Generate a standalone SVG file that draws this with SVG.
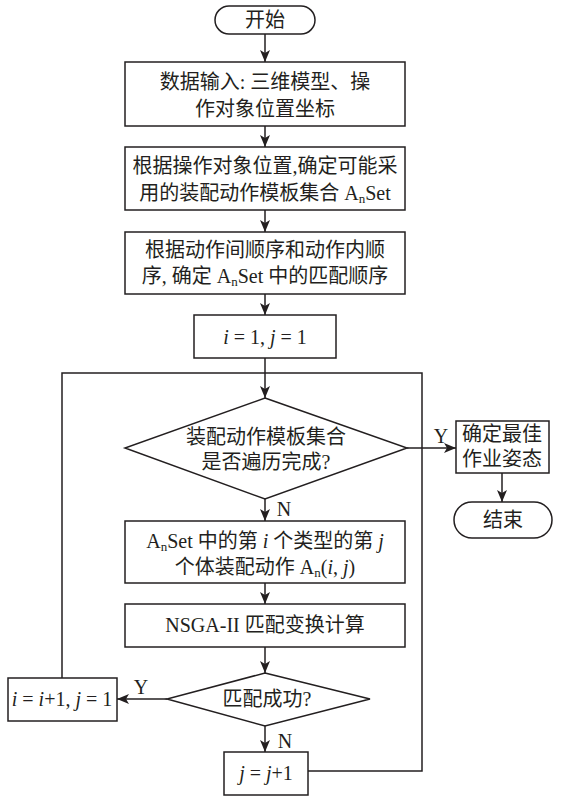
<svg xmlns="http://www.w3.org/2000/svg" width="566" height="805" viewBox="0 0 566 805">
<style>
.box{fill:#fff;stroke:#231f20;stroke-width:1.5}
.ln{fill:none;stroke:#231f20;stroke-width:1.5}
text{font-family:"Liberation Serif","Noto Sans CJK SC",serif;font-size:20px;fill:#231f20;text-anchor:middle;dominant-baseline:central}
.sub{font-size:13px}
.it{font-style:italic}
</style>
<defs>
<marker id="arr" viewBox="0 0 12 10" refX="12" refY="5" markerWidth="12" markerHeight="10" markerUnits="userSpaceOnUse" orient="auto">
<path d="M0,0 L12,5 L0,10 L3,5 z" fill="#231f20"/>
</marker>
</defs>
<rect width="566" height="805" fill="#fff"/>
<g id="connectors">
<line class="ln" x1="265" y1="34" x2="265" y2="62" marker-end="url(#arr)"/>
<line class="ln" x1="265" y1="126" x2="265" y2="147" marker-end="url(#arr)"/>
<line class="ln" x1="265" y1="210" x2="265" y2="232" marker-end="url(#arr)"/>
<line class="ln" x1="265" y1="294" x2="265" y2="315" marker-end="url(#arr)"/>
<line class="ln" x1="265" y1="358" x2="265" y2="398" marker-end="url(#arr)"/>
<polyline class="ln" points="62,678 62,373 422,373 422,771 308,771"/>
<line class="ln" x1="407" y1="448" x2="456" y2="448" marker-end="url(#arr)"/>
<text x="441" y="436">Y</text>
<line class="ln" x1="502" y1="473" x2="502" y2="502" marker-end="url(#arr)"/>
<line class="ln" x1="265" y1="499" x2="265" y2="521" marker-end="url(#arr)"/>
<text x="284" y="509">N</text>
<line class="ln" x1="265" y1="583" x2="265" y2="604" marker-end="url(#arr)"/>
<line class="ln" x1="265" y1="647" x2="265" y2="673" marker-end="url(#arr)"/>
<line class="ln" x1="167" y1="699" x2="117" y2="699" marker-end="url(#arr)"/>
<text x="141" y="687">Y</text>
<line class="ln" x1="265" y1="726" x2="265" y2="752" marker-end="url(#arr)"/>
<text x="285" y="741">N</text>
</g>
<g id="start">
<rect class="box" x="215" y="6" width="100" height="28" rx="14"/>
<text x="265" y="20">开始</text>
</g>
<g id="input">
<rect class="box" x="125" y="62" width="280" height="64"/>
<text x="265" y="82">数据输入: 三维模型、操</text>
<text x="265" y="109">作对象位置坐标</text>
</g>
<g id="templates">
<rect class="box" x="125" y="147" width="280" height="63"/>
<text x="265" y="166">根据操作对象位置,确定可能采</text>
<text x="265" y="193">用的装配动作模板集合 A<tspan class="sub" dy="5">n</tspan><tspan dy="-5">Set</tspan></text>
</g>
<g id="order">
<rect class="box" x="125" y="232" width="280" height="62"/>
<text x="265" y="250">根据动作间顺序和动作内顺</text>
<text x="265" y="276">序, 确定 A<tspan class="sub" dy="5">n</tspan><tspan dy="-5">Set 中的匹配顺序</tspan></text>
</g>
<g id="init">
<rect class="box" x="194" y="315" width="142" height="43"/>
<text x="265" y="337"><tspan class="it">i</tspan> = 1, <tspan class="it">j</tspan> = 1</text>
</g>
<g id="traversed">
<polygon class="box" points="265,398 407,448 265,499 125,448"/>
<text x="266" y="437">装配动作模板集合</text>
<text x="266" y="462">是否遍历完成?</text>
</g>
<g id="best">
<rect class="box" x="456" y="421" width="93" height="52"/>
<text x="502" y="434">确定最佳</text>
<text x="502" y="459">作业姿态</text>
</g>
<g id="end">
<rect class="box" x="454" y="502" width="98" height="36" rx="18"/>
<text x="503" y="520">结束</text>
</g>
<g id="action">
<rect class="box" x="125" y="521" width="280" height="62"/>
<text x="265" y="541">A<tspan class="sub" dy="5">n</tspan><tspan dy="-5">Set 中的第 </tspan><tspan class="it">i</tspan> 个类型的第 <tspan class="it">j</tspan></text>
<text x="265" y="567">个体装配动作 A<tspan class="sub" dy="5">n</tspan><tspan dy="-5">(</tspan><tspan class="it">i</tspan>, <tspan class="it">j</tspan>)</text>
</g>
<g id="nsga">
<rect class="box" x="125" y="604" width="280" height="43"/>
<text x="265" y="625">NSGA-II 匹配变换计算</text>
</g>
<g id="match">
<polygon class="box" points="265,673 370,699 265,726 167,699"/>
<text x="267" y="699">匹配成功?</text>
</g>
<g id="nexti">
<rect class="box" x="8" y="678" width="109" height="43"/>
<text x="62" y="699"><tspan class="it">i</tspan> = <tspan class="it">i</tspan>+1, <tspan class="it">j</tspan> = 1</text>
</g>
<g id="nextj">
<rect class="box" x="224" y="752" width="84" height="43"/>
<text x="266" y="773"><tspan class="it">j</tspan> = <tspan class="it">j</tspan>+1</text>
</g>
</svg>
